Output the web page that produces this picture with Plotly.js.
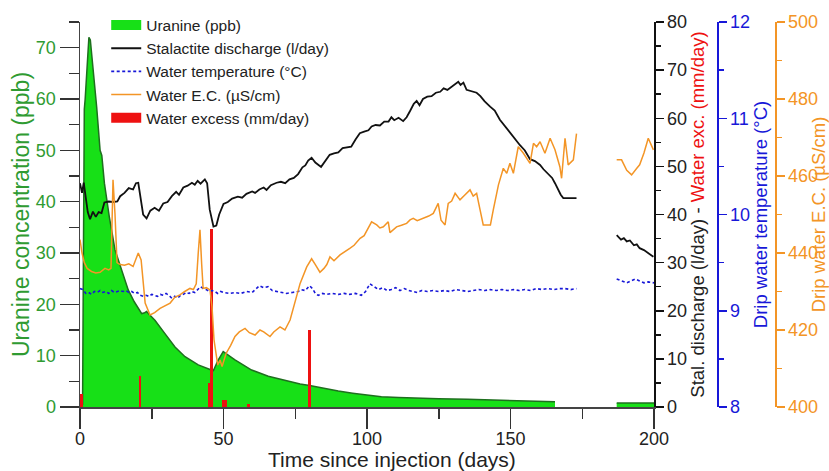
<!DOCTYPE html>
<html>
<head>
<meta charset="utf-8">
<script src="https://cdn.plot.ly/plotly-3.0.1.min.js"></script>
<style>html,body{margin:0;padding:0;background:#fff;}#chart{width:829px;height:471px;}</style>
</head>
<body>
<div id="chart"></div>
<script>
// ---- Data ----
const uranineDays = [0,0.9,1.2,1.5,1.8,2.3,3.1,3.6,4.6,5.8,7,7.6,8.5,10.2,12.2,14.5,16.8,18.9,20.5,21.5,22.3,23.2,24,26.1,29.6,33.1,36.6,41.2,45.3,46.5,48,49.9,54,59.8,65.6,70,76.7,80,85,90,95,100,105,111,118,125,135,145,155,165.5];
const uranine = [0,0.5,30,58,60,64,72,71.5,66,58.5,50,49,43.6,37.1,30.6,26.7,22.8,20.5,19,18.2,18.3,18.6,18.1,16.9,14.3,11.7,9.8,8.2,7.3,7.1,9,10.8,9.2,7.2,6.0,5.4,4.5,4.2,3.6,3.1,2.7,2.3,2.0,1.85,1.7,1.6,1.5,1.35,1.2,1.0];
const uranineLateDays = [187,200];
const uranineLate = [0.8,0.8];

const dischargeDays = [0,0.7,1.3,2,2.7,3.5,4.5,5.5,6.5,7.5,8.5,10,11.5,13,14,15.5,17,18.5,19.5,20.3,21,22,23.2,24.5,26,27.5,29,30.5,32,33.5,34.5,36,37.5,39,40,41,42,43.5,44.3,45.2,46.5,47.5,48.5,50,51.5,53,55,56.5,58,60,61,62.5,64,65,66.5,68.5,70,71.5,73,74.5,76,77.5,78.5,79.5,80.7,82,84,85.5,87,88.5,90,91.5,93,94.5,96,97.5,99,100.5,101.6,103,104.5,106,107.5,108.5,109.5,111,112.6,113.8,115,116.3,117.3,118.3,119.5,121,122.5,124,125.5,126.7,128,129.5,130.7,131.8,132.6,133.6,134.7,136.5,138.2,139.5,141,142.9,144.5,146.3,148,149.8,151,152,153.3,155,156.8,158.5,160.3,161.5,163,164.5,165.5,166.6,167.5,168.4,173,180,187,188.5,189.5,190.5,191.6,193,194,195,196.5,198,199.8];
const discharge = [46.5,44.5,46.6,44,40.5,39,40.6,39.5,40.5,40.3,42.5,42.7,42.6,42.7,43.8,44.5,45.5,45.2,46.5,46.6,43.5,40,39.2,40.8,41.4,40.8,42.3,42.6,43.8,44.7,44.1,45.6,46,46.6,46.2,47.0,46.4,47.3,46.5,41,37.5,37.7,40,42.2,42.6,43.3,43.7,43.5,44.3,44.8,44.5,45.2,45.6,45.1,46.1,46.6,46.8,46.5,47.3,47.6,48.4,49.8,50.2,51.2,51.8,50.8,49.9,51.2,52.4,52.7,52.9,53.8,53.9,54.1,55.6,56.9,57.2,57.5,58.3,58.6,58.5,59.3,59.3,60.2,59.6,60.1,59.4,60.2,61.5,63.0,63.6,62.7,64.0,64.5,64.6,65.3,65.5,66.2,65.9,66.5,67.0,67.6,66.9,67.4,65.9,65.6,65.3,64.6,63.5,62.4,61.6,59.7,58.4,57.2,56.3,55.5,54.4,53.3,51.5,51.1,50.3,49.4,48.5,47.6,46.5,45.1,44.1,43.4,43.4,null,35.7,34.8,35.1,34.4,34.6,33.6,33.8,33,32.6,31.9,31.2];

const tempDays = [0,1,2,3,4,5,6,7,8,9,10,11,12,13,14,15,16,17,18,19,20,21,22,23,24,25,26,27,28,29,30,31,32,33,34,35,36,37,38,39,40,41,42,43,44,45,46,47,48,49,50,52,54,56,58,60,61,62.5,64,65.5,67,68.5,70,72,74,76,77,78.5,80,81,82,83,84.5,86,88,90,92,94,96,98,99.5,101,102.5,104,105.5,107,108.5,110,111.5,113,114.5,116,117.5,119,121,123,125,127,129,131,133,135,137,139,141,143,145,147,149,151,153,155,157,159,161,163,165,167,169,171,173,180,187,189,190.5,192,193.5,195,196.5,198,200];
const temperature = [9.23,9.22,9.18,9.19,9.17,9.2,9.19,9.21,9.19,9.2,9.18,9.21,9.19,9.2,9.21,9.2,9.21,9.19,9.2,9.18,9.19,9.16,9.15,9.16,9.15,9.17,9.16,9.15,9.17,9.16,9.18,9.16,9.13,9.15,9.13,9.16,9.17,9.19,9.18,9.2,9.19,9.22,9.25,9.23,9.22,9.2,9.21,9.2,9.18,9.2,9.19,9.18,9.19,9.18,9.2,9.19,9.22,9.26,9.24,9.25,9.21,9.2,9.19,9.18,9.19,9.2,9.22,9.21,9.26,9.23,9.18,9.16,9.18,9.17,9.18,9.17,9.18,9.17,9.18,9.16,9.2,9.28,9.25,9.22,9.24,9.21,9.22,9.24,9.21,9.23,9.21,9.2,9.19,9.21,9.2,9.21,9.2,9.21,9.2,9.22,9.21,9.2,9.21,9.22,9.21,9.22,9.21,9.22,9.21,9.22,9.21,9.22,9.21,9.23,9.22,9.23,9.22,9.23,9.23,9.22,9.23,null,9.33,9.31,9.29,9.31,9.33,9.31,9.29,9.3,9.29];

const ecDays = [0,0.7,1.5,2.5,4,5.5,7,8.7,10,10.8,11.5,12.2,12.9,14,15.5,17,18.5,19.2,20.3,21.3,22,22.7,24.4,26,27.9,29.5,31.4,33,34.8,36.5,38.3,39.5,40.5,41.2,41.8,42.4,42.9,44,45.3,46,46.7,48,48.8,49.5,50.9,52.5,54,55.5,57.5,59,61,62.7,64,66.2,67.5,69.7,71.4,73.2,74.9,76.7,79,80.7,82,83.6,85,86,87.1,88.5,90.6,92.9,94,95.5,97.6,99,100,101.6,103.4,104.5,105.7,107.4,108,109,110.3,112,113.8,115,116.1,117.5,119.6,121.5,123.1,124.8,125.8,127.2,128.3,129.5,130.7,132.4,134,135.9,137,138.2,139.4,140.5,141.5,143,144,145.8,147.5,148.7,149.8,151,152.7,154.5,156.8,158,159.1,160.3,162,163.8,165.5,167.2,167.8,169,170.1,171.9,173,180,187,188.7,190.5,192.2,194,195,196.5,198,199.8];
const ec = [443.5,440,437.5,436,435.2,434.8,435,436,435.6,436,459,450,437.5,437,436.8,437.2,436.5,438,440,438.2,433,427,423.9,424.5,425.6,426.2,427,428.5,429.1,430,430.8,430.5,432,440,446,437,430.8,431,430.4,426,417.4,410.9,412.2,410.5,413.9,416,418.3,419.5,420.4,419.3,418.7,420,419.5,418.3,419.5,420.8,420,422.6,427,432.1,436.4,438.5,437,435,436,437,439,438,439.5,440.8,441.2,442,443.8,444.5,446,448.1,447.3,446.5,446.8,448.1,445.3,446,446.8,447.2,447.7,448.6,449,448.4,449,449.6,450.3,452.9,448.5,447.3,452.9,453.5,455.5,453.8,455,456.4,454.8,455.5,451.2,447.3,447.3,447.3,451.2,457.7,462,460.7,463.3,460.7,467.6,465.9,463.3,468.5,467.6,468.9,465.9,469.8,466.8,462.4,459.4,469.8,462.9,464.2,471,null,464.2,464.2,461.5,460.3,462,462.9,466,469.8,466.8];

const excessDays = [0.6,20.9,44.9,45.9,49.9,50.9,58.7,79.9];
const excess = [2.6,6.5,4.9,37,1.45,1.45,0.56,16.1];

// ---- Styles ----
const FONT = 'Arial, "Liberation Sans", sans-serif';
const GREEN_TXT = '#2f9b32';
const BLUE = '#1818d8';
const ORANGE = '#f39526';
const RED = '#ee1111';
const URA_FILL = '#17e017';
const URA_LINE = '#1f6f1f';

const traces = [
  {x: uranineDays, y: uranine, name: 'Uranine (ppb)', showlegend: false, type: 'scatter', mode: 'lines',
   fill: 'tozeroy', fillcolor: URA_FILL, line: {color: URA_LINE, width: 1.5}, yaxis: 'y'},
  {x: uranineLateDays, y: uranineLate, name: 'Uranine (ppb)', showlegend: false, type: 'scatter', mode: 'lines',
   fill: 'tozeroy', fillcolor: URA_FILL, line: {color: URA_LINE, width: 1.5}, yaxis: 'y'},
  {x: excessDays, y: excess, name: 'Water excess (mm/day)', showlegend: false, type: 'bar', width: 0.95,
   marker: {color: RED, line: {width: 0}}, yaxis: 'y2'},
  // legend entries (no data points; only used for the legend keys)
  {x: [null], y: [null], name: 'Uranine (ppb)', type: 'scatter', mode: 'lines',
   line: {color: URA_FILL, width: 15}, yaxis: 'y'},
  {x: dischargeDays, y: discharge, name: 'Stalactite discharge (l/day)', type: 'scatter', mode: 'lines',
   line: {color: '#111111', width: 1.8}, connectgaps: false, yaxis: 'y2'},
  {x: tempDays, y: temperature, name: 'Water temperature (°C)', type: 'scatter', mode: 'lines',
   line: {color: BLUE, width: 1.6, dash: '3px,2.5px'}, connectgaps: false, yaxis: 'y3'},
  {x: ecDays, y: ec, name: 'Water E.C. (µS/cm)', type: 'scatter', mode: 'lines',
   line: {color: ORANGE, width: 1.5}, connectgaps: false, yaxis: 'y4'},
  {x: [null], y: [null], name: 'Water excess (mm/day)', type: 'scatter', mode: 'lines',
   line: {color: RED, width: 15}, yaxis: 'y2'}
];

const axisLine = {showline: true, linewidth: 1.5, showgrid: false, zeroline: false, ticks: 'outside', automargin: false};
const XDOM = 574 / 749;

const layout = {
  width: 829, height: 471,
  margin: {l: 80, r: 0, t: 22, b: 64, pad: 0},
  paper_bgcolor: '#fff', plot_bgcolor: 'rgba(0,0,0,0)',
  font: {family: FONT, size: 18, color: '#222'},
  showlegend: true,
  bargap: 0,
  legend: {x: 0.035, y: 1.035, xanchor: 'left', yanchor: 'top', bgcolor: 'rgba(0,0,0,0)',
           font: {family: FONT, size: 15.5, color: '#222'}, tracegroupgap: 0},
  xaxis: Object.assign({}, axisLine, {
    domain: [0, XDOM],
    range: [0, 200], tickvals: [0, 50, 100, 150, 200], ticklen: 20, tickwidth: 1.5,
    tickcolor: '#333', linecolor: '#444', ticklabelstandoff: -5,
    minor: {tickvals: [25, 75, 125, 175], ticklen: 10, tickwidth: 1.5, tickcolor: '#333', ticks: 'outside'},
    tickfont: {family: FONT, size: 18, color: '#222'}
  }),
  yaxis: Object.assign({}, axisLine, {
    range: [0, 75], tickvals: [0, 10, 20, 30, 40, 50, 60, 70], ticklen: 19, tickwidth: 1.5,
    tickcolor: '#333', linecolor: '#444',
    minor: {dtick: 5, ticklen: 10, tickwidth: 1.5, tickcolor: '#333', ticks: 'outside'},
    tickfont: {family: FONT, size: 18, color: GREEN_TXT},
    title: {text: 'Uranine concentration (ppb)', font: {family: FONT, size: 23, color: GREEN_TXT}, standoff: 0}
  }),
  yaxis2: Object.assign({}, axisLine, {
    overlaying: 'y', side: 'right', anchor: 'x',
    range: [0, 80], tickvals: [0, 10, 20, 30, 40, 50, 60, 70, 80], ticklen: 8, tickwidth: 1.5,
    tickcolor: '#111', linecolor: '#111',
    minor: {dtick: 5, ticklen: 5, tickwidth: 1.5, tickcolor: '#111', ticks: 'outside'},
    tickfont: {family: FONT, size: 18, color: '#222'},
    title: {text: 'Stal. discharge (l/day) - <span style="color:' + RED + '">Water exc. (mm/day)</span>',
            font: {family: FONT, size: 18.5, color: '#222'}, standoff: 1}
  }),
  yaxis3: Object.assign({}, axisLine, {
    overlaying: 'y', side: 'right', anchor: 'free', position: (717 - 80) / 749,
    range: [8, 12], tickvals: [8, 9, 10, 11, 12], ticklen: 8, tickwidth: 1.5,
    tickcolor: BLUE, linecolor: BLUE,
    minor: {dtick: 0.5, ticklen: 5, tickwidth: 1.5, tickcolor: BLUE, ticks: 'outside'},
    tickfont: {family: FONT, size: 18, color: BLUE},
    title: {text: 'Drip water temperature (°C)', font: {family: FONT, size: 18.5, color: BLUE}, standoff: 0}
  }),
  yaxis4: Object.assign({}, axisLine, {
    overlaying: 'y', side: 'right', anchor: 'free', position: (775 - 80) / 749,
    range: [400, 500], tickvals: [400, 420, 440, 460, 480, 500], ticklen: 8, tickwidth: 1.5,
    tickcolor: ORANGE, linecolor: ORANGE,
    minor: {dtick: 10, ticklen: 5, tickwidth: 1.5, tickcolor: ORANGE, ticks: 'outside'},
    tickfont: {family: FONT, size: 18, color: ORANGE},
    title: {text: 'Drip water E.C. (µS/cm)', font: {family: FONT, size: 18.5, color: ORANGE}, standoff: 3}
  }),
  annotations: [
    {text: 'Time since injection (days)', xref: 'paper', yref: 'paper',
     x: (392 - 80) / 749, y: -(459 - 407) / 385, xanchor: 'center', yanchor: 'middle',
     showarrow: false, font: {family: FONT, size: 21, color: '#222'}}
  ]
};

Plotly.newPlot('chart', traces, layout, {displayModeBar: false, staticPlot: true});
</script>
</body>
</html>
